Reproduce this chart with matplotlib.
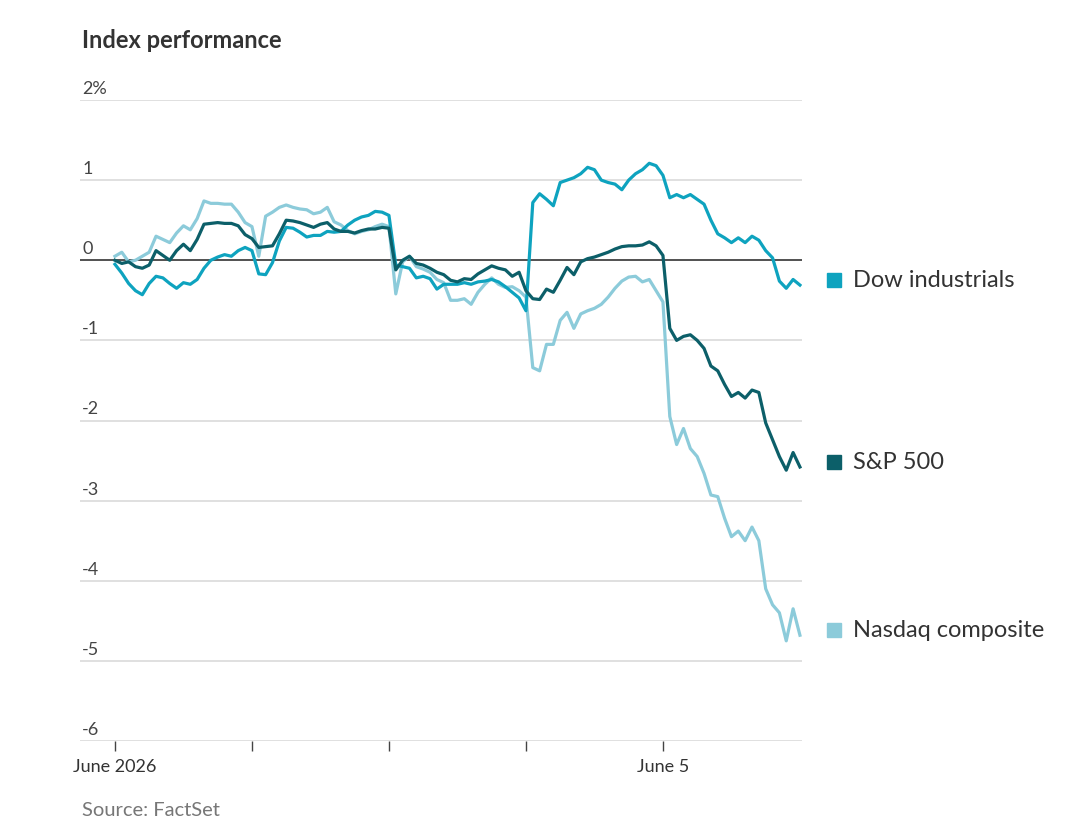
import numpy as np
import matplotlib
matplotlib.use('Agg')
import matplotlib.pyplot as plt
import matplotlib.transforms as mtransforms

plt.rcParams['font.family'] = ['Lato', 'DejaVu Sans']

# trading-day time grid: 5 sessions, 20 samples per session
t = np.arange(101) * 0.05

dow = [-0.05, -0.16, -0.29, -0.38, -0.43, -0.29, -0.20, -0.22, -0.29, -0.35,
       -0.28, -0.30, -0.24, -0.10, 0.00, 0.04, 0.07, 0.05, 0.12, 0.16,
       0.12, -0.17, -0.18, -0.03, 0.24, 0.41, 0.40, 0.35, 0.29, 0.31,
       0.31, 0.36, 0.35, 0.36, 0.44, 0.50, 0.54, 0.56, 0.61, 0.60,
       0.56, -0.06, -0.08, -0.10, -0.22, -0.20, -0.23, -0.36, -0.30, -0.30,
       -0.30, -0.28, -0.30, -0.27, -0.26, -0.24, -0.27, -0.33, -0.40, -0.47,
       -0.63, 0.72, 0.83, 0.76, 0.68, 0.97, 1.00, 1.03, 1.08, 1.16,
       1.13, 1.00, 0.97, 0.95, 0.88, 1.00, 1.08, 1.13, 1.21, 1.18,
       1.06, 0.78, 0.82, 0.78, 0.82, 0.76, 0.70, 0.50, 0.33, 0.28,
       0.22, 0.28, 0.22, 0.30, 0.25, 0.12, 0.03, -0.26, -0.35, -0.24,
       -0.31]

sp500 = [0.00, -0.04, -0.02, -0.08, -0.10, -0.06, 0.12, 0.06, 0.00, 0.12,
         0.20, 0.12, 0.26, 0.45, 0.46, 0.47, 0.46, 0.46, 0.43, 0.32,
         0.27, 0.16, 0.17, 0.18, 0.33, 0.50, 0.49, 0.47, 0.44, 0.41,
         0.45, 0.47, 0.39, 0.36, 0.36, 0.34, 0.37, 0.39, 0.39, 0.41,
         0.40, -0.12, 0.00, 0.05, -0.04, -0.06, -0.10, -0.15, -0.18, -0.25,
         -0.27, -0.23, -0.24, -0.17, -0.12, -0.07, -0.10, -0.12, -0.20, -0.15,
         -0.38, -0.48, -0.49, -0.36, -0.40, -0.25, -0.09, -0.18, -0.02, 0.02,
         0.04, 0.07, 0.10, 0.14, 0.17, 0.18, 0.18, 0.19, 0.23, 0.18,
         0.06, -0.85, -1.00, -0.95, -0.93, -1.00, -1.10, -1.32, -1.38, -1.55,
         -1.70, -1.65, -1.72, -1.62, -1.65, -2.03, -2.24, -2.45, -2.62, -2.40,
         -2.58]

nasdaq = [0.05, 0.10, -0.02, 0.00, 0.05, 0.10, 0.30, 0.26, 0.22, 0.34,
          0.43, 0.38, 0.52, 0.74, 0.71, 0.71, 0.70, 0.70, 0.60, 0.47,
          0.42, 0.05, 0.55, 0.60, 0.66, 0.69, 0.66, 0.64, 0.63, 0.58,
          0.60, 0.66, 0.48, 0.44, 0.37, 0.33, 0.36, 0.38, 0.42, 0.45,
          0.42, -0.42, -0.02, 0.05, -0.08, -0.11, -0.15, -0.24, -0.28, -0.50,
          -0.50, -0.48, -0.55, -0.40, -0.30, -0.22, -0.30, -0.34, -0.33, -0.38,
          -0.46, -1.34, -1.38, -1.05, -1.05, -0.75, -0.65, -0.85, -0.67, -0.63,
          -0.60, -0.55, -0.46, -0.35, -0.26, -0.21, -0.20, -0.27, -0.24, -0.38,
          -0.52, -1.95, -2.30, -2.10, -2.35, -2.45, -2.66, -2.93, -2.95, -3.22,
          -3.45, -3.38, -3.50, -3.33, -3.50, -4.10, -4.30, -4.40, -4.75, -4.35,
          -4.68]

names = ['Dow industrials', 'S&P 500', 'Nasdaq composite']
colors = ['#0ea3bf', '#0c5f69', '#8ccbda']
yticks = [2, 1, 0, -1, -2, -3, -4, -5, -6]
ytick_labels = ['2%', '1', '0', '-1', '-2', '-3', '-4', '-5', '-6']
xticks = [0, 1, 2, 3, 4]
xtick_labels = ['June 2026', '', '', '', 'June 5']

fig = plt.figure(figsize=(10.8, 8.39), dpi=100)
ax = fig.add_axes([80/1080, 1 - 741/839, 722/1080, 641/839])
ax.set_xlim(-0.255, 5.015)
ax.set_ylim(-6, 2)

for s in ax.spines.values():
    s.set_visible(False)

# gridlines
for yv in yticks:
    if yv == 0:
        ax.axhline(yv, color='#222222', lw=1.1, zorder=3)
    else:
        ax.axhline(yv, color='#e0e0e0', lw=1.4, zorder=1)

# y tick labels sit above the gridlines
trans = mtransforms.blended_transform_factory(ax.transAxes, ax.transData)
off = mtransforms.offset_copy(trans, fig=fig, x=0, y=3, units='dots')
for yv, lab in zip(yticks, ytick_labels):
    ax.text(0.003, yv, lab, transform=off, ha='left', va='bottom',
            fontsize=13, color='#444444')
ax.set_yticks([])

# lines
series = [nasdaq, dow, sp500]
order_colors = [colors[2], colors[0], colors[1]]
for vals, c in zip(series, order_colors):
    ax.plot(t, vals, color=c, lw=2.3, solid_joinstyle='round', zorder=4)

# end labels
for vals, name, c in zip([dow, sp500, nasdaq], names, colors):
    ylab = vals[-1] + 0.06
    ax.plot([5.25], [ylab], marker='s', ms=10, color=c, clip_on=False)
    ax.text(5.39, ylab, name, ha='left', va='center', fontsize=17,
            color='#333333', clip_on=False)

ax.set_xticks(xticks)
ax.set_xticklabels(xtick_labels, fontsize=13, color='#333333')
ax.tick_params(axis='x', length=7, width=1, color='#444444', pad=6)

fig.text(82/1080, 1 - 40/839, 'Index performance', fontsize=17,
         fontweight='bold', color='#333333', ha='left', va='center')
fig.text(82/1080, 1 - 810/839, 'Source: FactSet', fontsize=14.5,
         color='#777777', ha='left', va='center')

fig.savefig('out.png', dpi=100, facecolor='white')
